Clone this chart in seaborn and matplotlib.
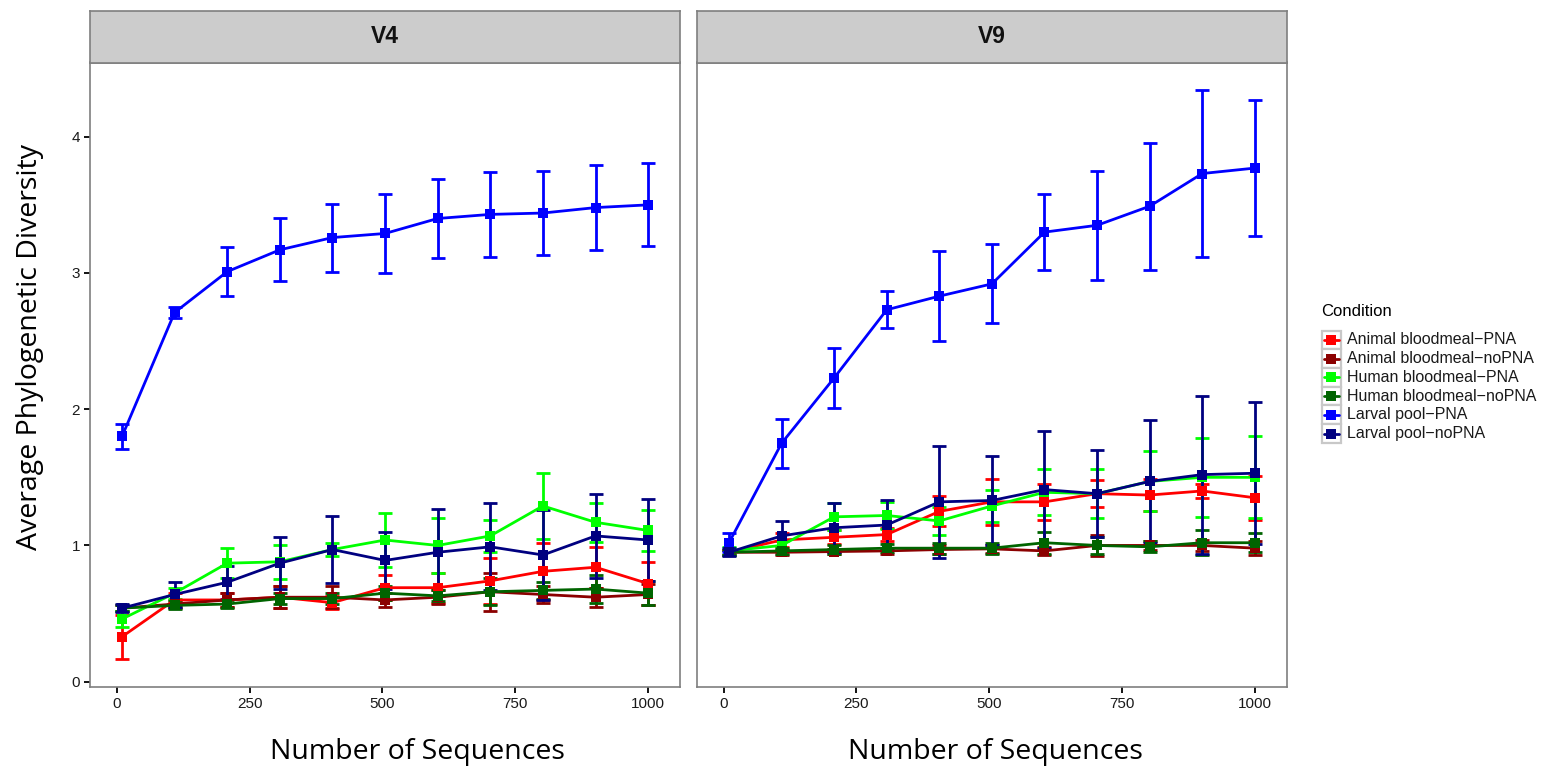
import numpy as np
import pandas as pd
import matplotlib
matplotlib.use("Agg")
import matplotlib.pyplot as plt
from matplotlib.lines import Line2D
from matplotlib.patches import Rectangle
import seaborn as sns

# ---------------- data ----------------
sequences = [10, 109, 208, 307, 406, 505, 604, 703, 802, 901, 1000]
conditions = ["Animal bloodmeal\u2212PNA", "Animal bloodmeal\u2212noPNA",
              "Human bloodmeal\u2212PNA", "Human bloodmeal\u2212noPNA",
              "Larval pool\u2212PNA", "Larval pool\u2212noPNA"]
colors = ["#FF0000", "#8B0000", "#00FF00", "#006400", "#0000FF", "#000080"]
regions = ["V4", "V9"]

# V4 means / error half-widths
v4_animal_pna = [0.33, 0.60, 0.60, 0.62, 0.58, 0.69, 0.69, 0.74, 0.81, 0.84, 0.72]
v4_animal_pna_err = [0.16, 0.05, 0.05, 0.08, 0.05, 0.09, 0.11, 0.17, 0.21, 0.15, 0.16]
v4_animal_nopna = [0.54, 0.57, 0.60, 0.62, 0.62, 0.60, 0.62, 0.66, 0.64, 0.62, 0.64]
v4_animal_nopna_err = [0.02, 0.03, 0.05, 0.08, 0.08, 0.05, 0.05, 0.14, 0.06, 0.07, 0.08]
v4_human_pna = [0.46, 0.65, 0.87, 0.88, 0.97, 1.04, 1.00, 1.07, 1.29, 1.17, 1.11]
v4_human_pna_err = [0.06, 0.04, 0.11, 0.125, 0.05, 0.20, 0.20, 0.115, 0.24, 0.145, 0.15]
v4_human_nopna = [0.54, 0.56, 0.57, 0.61, 0.61, 0.65, 0.63, 0.66, 0.67, 0.68, 0.65]
v4_human_nopna_err = [0.02, 0.03, 0.03, 0.04, 0.04, 0.05, 0.04, 0.10, 0.06, 0.10, 0.09]
v4_larval_pna = [1.80, 2.71, 3.01, 3.17, 3.26, 3.29, 3.40, 3.43, 3.44, 3.48, 3.50]
v4_larval_pna_err = [0.095, 0.04, 0.18, 0.23, 0.25, 0.29, 0.29, 0.31, 0.305, 0.31, 0.305]
v4_larval_nopna = [0.54, 0.64, 0.73, 0.87, 0.97, 0.89, 0.95, 0.99, 0.93, 1.07, 1.04]
v4_larval_nopna_err = [0.03, 0.09, 0.12, 0.19, 0.245, 0.21, 0.32, 0.32, 0.33, 0.31, 0.30]

# V9 means / error half-widths
v9_animal_pna = [0.95, 1.04, 1.06, 1.08, 1.25, 1.32, 1.32, 1.38, 1.37, 1.40, 1.35]
v9_animal_pna_err = [0.02, 0.05, 0.05, 0.05, 0.11, 0.17, 0.13, 0.10, 0.12, 0.05, 0.16]
v9_animal_nopna = [0.95, 0.95, 0.955, 0.96, 0.97, 0.975, 0.96, 1.00, 1.00, 1.00, 0.98]
v9_animal_nopna_err = [0.02, 0.02, 0.02, 0.02, 0.03, 0.03, 0.03, 0.075, 0.03, 0.04, 0.05]
v9_human_pna = [0.96, 1.00, 1.21, 1.22, 1.18, 1.29, 1.39, 1.38, 1.47, 1.50, 1.50]
v9_human_pna_err = [0.03, 0.03, 0.10, 0.10, 0.10, 0.12, 0.17, 0.18, 0.22, 0.29, 0.30]
v9_human_nopna = [0.95, 0.96, 0.97, 0.98, 0.98, 0.98, 1.02, 1.00, 0.99, 1.02, 1.02]
v9_human_nopna_err = [0.02, 0.02, 0.03, 0.03, 0.04, 0.04, 0.08, 0.06, 0.04, 0.09, 0.07]
v9_larval_pna = [1.02, 1.75, 2.23, 2.73, 2.83, 2.92, 3.30, 3.35, 3.49, 3.73, 3.77]
v9_larval_pna_err = [0.07, 0.18, 0.22, 0.135, 0.33, 0.29, 0.28, 0.40, 0.465, 0.61, 0.50]
v9_larval_nopna = [0.95, 1.07, 1.13, 1.15, 1.32, 1.33, 1.41, 1.38, 1.47, 1.52, 1.53]
v9_larval_nopna_err = [0.03, 0.11, 0.18, 0.18, 0.41, 0.33, 0.43, 0.32, 0.45, 0.58, 0.52]

x_ticks = [0, 250, 500, 750, 1000]
y_ticks = [0, 1, 2, 3, 4]

means = {
    "V4": [v4_animal_pna, v4_animal_nopna, v4_human_pna, v4_human_nopna, v4_larval_pna, v4_larval_nopna],
    "V9": [v9_animal_pna, v9_animal_nopna, v9_human_pna, v9_human_nopna, v9_larval_pna, v9_larval_nopna],
}
errs = {
    "V4": [v4_animal_pna_err, v4_animal_nopna_err, v4_human_pna_err, v4_human_nopna_err, v4_larval_pna_err, v4_larval_nopna_err],
    "V9": [v9_animal_pna_err, v9_animal_nopna_err, v9_human_pna_err, v9_human_nopna_err, v9_larval_pna_err, v9_larval_nopna_err],
}

rows = []
for reg in regions:
    for cond, m, e in zip(conditions, means[reg], errs[reg]):
        for s, mv, ev in zip(sequences, m, e):
            rows.append({"Region": reg, "Sequences": s, "Condition": cond, "PD": mv, "err": ev})
df = pd.DataFrame(rows)

# ---------------- style ----------------
sns.set_theme(style="white")
plt.rcParams["font.family"] = ["Liberation Sans", "DejaVu Sans"]
palette = dict(zip(conditions, colors))

W, H = 1543, 776
fig = plt.figure(figsize=(W / 100, H / 100), dpi=100)

def fx(px):
    return px / W

def fy(py):
    return 1 - py / H

panels = {"V4": (89.7, 680.0), "V9": (696.7, 1286.7)}
p_top, p_bot, s_top = 62.5, 687.0, 11.3
border = "#7F7F7F"
LW, MS = 2.0, 7.5

for reg in regions:
    x0, x1 = panels[reg]
    ax = fig.add_axes([fx(x0), fy(p_bot), fx(x1 - x0), (p_bot - p_top) / H])
    sub = df[df["Region"] == reg]
    for cond in conditions:
        d = sub[sub["Condition"] == cond]
        ax.errorbar(d["Sequences"], d["PD"], yerr=d["err"], fmt="none",
                    ecolor=palette[cond], elinewidth=2.0, capsize=5, capthick=2.0, zorder=2)
    sns.lineplot(data=sub, x="Sequences", y="PD", hue="Condition", hue_order=conditions,
                 palette=palette, marker="s", markersize=MS, markeredgewidth=0,
                 linewidth=LW, legend=False, ax=ax, zorder=3)
    ax.set_xlim(-50.8, 1060)
    ax.set_ylim(-0.039, 4.545)
    ax.set_xticks(x_ticks)
    ax.set_yticks(y_ticks)
    ax.set_xlabel("")
    ax.set_ylabel("")
    ax.tick_params(axis="both", which="major", length=4, width=1.3, color="black",
                   labelsize=11, labelcolor="#1a1a1a", pad=3, direction="out",
                   bottom=True, left=True)
    if reg == "V9":
        ax.tick_params(axis="y", left=False, labelleft=False)
    for sp in ax.spines.values():
        sp.set_color(border)
        sp.set_linewidth(1.2)
    # strip
    sax = fig.add_axes([fx(x0), fy(p_top), fx(x1 - x0), (p_top - s_top) / H])
    sax.set_facecolor("#CCCCCC")
    sax.set_xticks([])
    sax.set_yticks([])
    for sp in sax.spines.values():
        sp.set_color(border)
        sp.set_linewidth(1.2)
    sax.text(0.5, 0.5, reg, ha="center", va="center", fontsize=16.5,
             fontweight="bold", color="#111111", transform=sax.transAxes)

# axis titles
title_font = ["Open Sans", "DejaVu Sans"]
for cx in (417, 995):
    fig.text(fx(cx), fy(752), "Number of Sequences", ha="center", va="center",
             fontsize=20.5, family=title_font, color="black")
fig.text(fx(30), fy(347), "Average Phylogenetic Diversity", ha="center", va="center",
         rotation=90, fontsize=20.5, family=title_font, color="black")

# legend (ggplot-style keys with grey borders)
fig.text(fx(1321.5), fy(312), "Condition", ha="left", va="center", fontsize=12, color="black")
step = 18.7
for i, (c, lab) in enumerate(zip(colors, conditions)):
    yc = 340 + step * i
    fig.add_artist(Rectangle((fx(1322), fy(yc + step / 2)), fx(18.5), step / H,
                             transform=fig.transFigure, facecolor="white",
                             edgecolor="#C8C8C8", linewidth=1.6, zorder=1))
    fig.add_artist(Line2D([fx(1323.5), fx(1339)], [fy(yc), fy(yc)], color=c, linewidth=LW,
                          transform=fig.transFigure, zorder=2))
    fig.add_artist(Line2D([fx(1331)], [fy(yc)], color=c, marker="s", markersize=MS,
                          markeredgewidth=0, linestyle="none",
                          transform=fig.transFigure, zorder=3))
    fig.text(fx(1347), fy(yc), lab, ha="left", va="center", fontsize=11.5, color="#1a1a1a")

fig.savefig("out.png", dpi=100, facecolor="white")
